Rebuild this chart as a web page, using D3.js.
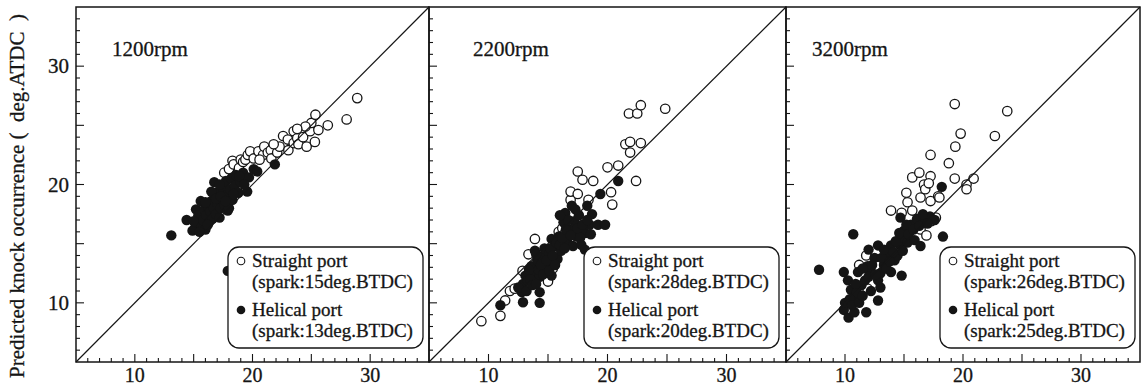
<!DOCTYPE html>
<html>
<head>
<meta charset="utf-8">
<script src="https://cdn.jsdelivr.net/npm/d3@7"></script>
<style>
  body { margin: 0; background: #fff; }
  svg { display: block; }
  text { font-family: "Liberation Serif", "Times New Roman", serif; fill: #151515; stroke: #151515; stroke-width: 0.3px; }
</style>
</head>
<body>
<svg id="chart" width="1144" height="387"></svg>
<script>
// engine speed of each panel
const speeds = ["1200rpm", "2200rpm", "3200rpm"];
const sparkStraight = ["15", "28", "26"];
const sparkHelical = ["13", "20", "25"];
const xTickLabels = [10, 20, 30];
const yTickLabels = [10, 20, 30];

// [measured, predicted] knock occurrence, deg.ATDC
const straight1200 = [
  [17.6,21.0],[18.0,21.3],[18.3,22.0],[18.4,21.7],[18.85,21.4],[19.0,22.1],[19.2,21.9],[19.4,22.1],
  [19.6,22.5],[19.8,22.8],[20.1,22.2],[20.5,22.8],[20.9,22.5],[21.0,23.2],[21.3,22.7],[21.55,22.9],
  [21.6,22.2],[22.1,22.7],[22.3,23.2],[22.6,24.1],[23.05,22.9],[23.0,23.8],[23.5,24.5],[23.5,23.5],
  [23.8,23.9],[23.9,23.4],[24.3,24.0],[24.6,23.2],[24.9,24.5],[25.0,25.2],[25.3,23.6],[25.35,25.9],
  [25.6,24.6],[24.5,24.9],[26.4,25.0],[28.0,25.5],[28.9,27.3],[21.8,23.4],[20.6,22.1],[23.8,24.7]
];
const helical1200 = [
  [13.1,15.7],[14.4,17.0],[14.9,16.1],[15.1,16.3],[15.3,16.8],[15.2,17.9],[15.4,17.4],[15.6,18.6],
  [15.7,16.5],[15.8,17.0],[15.9,17.9],[16.0,16.2],[16.1,17.4],[16.2,18.2],[16.3,16.8],[16.4,17.7],
  [16.5,18.6],[16.6,17.1],[16.7,18.0],[16.75,20.2],[16.8,19.0],[16.9,17.5],[17.0,18.4],[17.1,19.4],
  [17.2,17.2],[17.3,18.0],[17.4,18.8],[17.5,19.7],[17.6,18.3],[17.75,20.3],[17.8,19.1],[17.9,17.8],
  [18.0,18.0],[18.1,19.6],[18.2,20.5],[18.3,18.7],[18.5,19.9],[18.6,20.8],[18.8,19.3],[19.0,20.2],
  [19.2,21.0],[19.55,19.4],[19.7,20.6],[20.1,21.3],[20.4,21.1],[21.9,21.7],[17.9,12.7],[16.5,19.4],
  [15.0,16.9],[15.5,16.0],[16.2,16.6],[16.9,18.8],[17.3,19.0],[17.7,18.6],[18.4,19.2],[16.0,18.5],
  [17.2,20.0],[18.9,20.7],[19.3,20.0]
];
const straight2200 = [
  [9.4,8.45],[11.0,8.9],[11.4,10.2],[11.8,11.0],[12.2,11.2],[12.86,12.7],[13.36,14.1],[13.9,15.4],
  [15.0,11.8],[14.0,12.6],[15.9,16.0],[16.2,16.3],[16.9,18.7],[16.9,19.4],[17.5,19.2],[17.5,21.1],
  [17.9,20.4],[18.4,18.7],[18.8,20.3],[20.0,21.45],[20.3,19.35],[20.4,18.3],[20.9,21.6],[21.5,23.4],
  [21.9,23.6],[21.9,22.7],[22.4,20.3],[22.8,23.5],[21.8,26.0],[22.5,26.0],[22.8,26.7],[24.85,26.4],
  [15.4,12.9],[13.1,11.4]
];
const helical2200 = [
  [11.0,9.8],[12.9,10.05],[14.3,10.0],[14.3,10.9],[12.8,10.9],[12.9,11.6],[13.1,12.3],[13.3,11.9],
  [13.6,13.1],[13.8,12.5],[13.9,14.4],[14.1,13.6],[14.3,12.2],[14.5,13.9],[14.7,14.6],[14.8,12.9],
  [15.0,13.1],[15.1,14.2],[15.3,15.4],[15.3,12.3],[15.5,13.6],[15.6,14.8],[15.8,13.7],[15.9,15.6],
  [16.1,14.4],[16.3,16.8],[16.45,17.6],[16.6,15.2],[16.8,16.2],[17.0,18.2],[17.1,14.8],[17.2,16.9],
  [17.4,15.6],[17.6,17.4],[17.8,14.9],[18.1,15.9],[18.1,14.5],[18.3,18.2],[18.5,16.6],[18.7,17.5],
  [19.2,16.6],[19.8,16.6],[19.4,19.2],[20.9,20.3],[12.5,11.3],
  [13.2,11.0],[13.5,12.0],[13.7,11.5],[14.0,11.6],[14.2,12.8],[14.4,13.2],[14.6,12.4],[14.9,13.6],
  [15.1,12.7],[15.2,14.6],[15.4,14.0],[15.6,13.2],[15.7,15.1],[16.0,14.9],[16.2,15.5],[16.4,14.6],
  [16.5,16.2],[16.7,17.0],[16.9,15.7],[17.3,17.9],[17.5,16.3],[17.7,15.5],[17.9,16.6],[18.3,17.0],
  [18.6,15.8],[16.0,17.4],[14.0,14.1],[13.4,12.8]
];
const straight3200 = [
  [11.2,13.2],[11.8,14.0],[11.9,11.2],[13.9,17.8],[14.8,17.6],[15.2,19.3],[15.3,18.5],[15.7,17.8],
  [15.7,20.6],[16.3,21.0],[16.4,18.9],[16.4,16.2],[16.7,20.0],[16.9,15.7],[16.8,19.6],[17.25,20.7],
  [17.25,22.5],[17.25,18.6],[17.7,17.2],[17.9,19.0],[18.0,18.9],[18.8,21.8],[19.3,20.5],[19.3,26.8],
  [19.35,23.2],[19.8,24.3],[20.3,20.0],[20.3,19.6],[20.9,20.5],[22.7,24.1],[23.75,26.2],[17.1,20.1],
  [17.3,16.9]
];
const helical3200 = [
  [7.8,12.8],[9.9,12.6],[10.25,11.9],[10.5,11.1],[10.8,10.5],[9.9,9.4],[10.3,8.75],[10.8,9.2],
  [11.8,9.2],[12.8,10.2],[11.4,11.5],[11.1,12.6],[11.9,13.1],[12.2,12.6],[12.8,11.9],[12.5,13.8],
  [12.8,14.85],[13.3,13.2],[13.6,14.2],[13.9,14.85],[13.9,12.6],[14.2,13.6],[14.45,14.0],[14.7,14.85],
  [14.7,17.2],[15.0,16.1],[14.9,15.5],[15.3,15.1],[15.6,16.6],[15.9,15.3],[16.1,17.1],[16.4,14.8],
  [16.8,17.0],[17.2,17.3],[17.6,17.0],[14.8,12.3],[10.7,15.8],[18.2,19.8],[18.3,15.6],[11.0,10.9],
  [12.2,11.0],[13.0,12.5],
  [10.0,10.0],[10.4,10.3],[10.6,9.8],[11.2,10.0],[11.5,10.6],[11.7,11.9],[12.0,12.2],[12.3,13.2],
  [12.6,12.4],[13.1,13.8],[13.3,14.5],[13.5,12.9],[13.8,13.5],[14.1,14.3],[14.3,15.2],[14.6,15.9],
  [14.9,14.4],[15.2,16.6],[15.4,15.8],[15.8,16.2],[16.3,16.5],[16.6,17.5],[17.0,16.7],[12.0,14.5],
  [11.5,12.9],[10.9,11.6],[13.0,11.3]
];

const straightSets = [straight1200, straight2200, straight3200];
const helicalSets = [helical1200, helical2200, helical3200];

const svg = d3.select("#chart");
const ink = "#151515";

// panel frames (pixels)
const panelEdges = [[76, 429], [429, 786], [786, 1140]];
const plotTop = 7, plotBottom = 362;

const y = d3.scaleLinear().domain([5, 35]).range([plotBottom, plotTop]);

panelEdges.forEach((edge, i) => {
  const x = d3.scaleLinear().domain([5, 35]).range(edge);
  const g = svg.append("g");

  // data points: open first, filled on top
  g.selectAll(".open")
    .data(straightSets[i])
    .enter()
    .append("circle")
    .attr("cx", d => x(d[0]))
    .attr("cy", d => y(d[1]))
    .attr("r", 4.7)
    .attr("fill", "#fff")
    .attr("stroke", ink)
    .attr("stroke-width", 1.3);

  g.selectAll(".filled")
    .data(helicalSets[i])
    .enter()
    .append("circle")
    .attr("cx", d => x(d[0]))
    .attr("cy", d => y(d[1]))
    .attr("r", 5.2)
    .attr("fill", ink);

  // 1:1 line
  g.append("line")
    .attr("x1", x(5)).attr("y1", y(5))
    .attr("x2", x(35)).attr("y2", y(35))
    .attr("stroke", ink)
    .attr("stroke-width", 1.2);

  // ticks: minor every 1, longer every 5
  const ticks = d3.range(6, 35);
  g.selectAll(".xt")
    .data(ticks)
    .enter()
    .append("line")
    .attr("x1", d => x(d)).attr("x2", d => x(d))
    .attr("y1", plotBottom)
    .attr("y2", d => plotBottom - (d % 5 === 0 ? 8 : 4))
    .attr("stroke", ink)
    .attr("stroke-width", 1.1);

  g.selectAll(".yt")
    .data(ticks)
    .enter()
    .append("line")
    .attr("y1", d => y(d)).attr("y2", d => y(d))
    .attr("x1", edge[0])
    .attr("x2", d => edge[0] + (d % 5 === 0 ? 8 : 4))
    .attr("stroke", ink)
    .attr("stroke-width", 1.1);

  g.selectAll(".xl")
    .data(xTickLabels)
    .enter()
    .append("text")
    .attr("x", d => x(d))
    .attr("y", 382)
    .attr("text-anchor", "middle")
    .attr("font-size", "20px")
    .text(d => d);

  if (i === 0) {
    g.selectAll(".yl")
      .data(yTickLabels)
      .enter()
      .append("text")
      .attr("x", edge[0] - 7)
      .attr("y", d => y(d) + 7)
      .attr("text-anchor", "end")
      .attr("font-size", "21px")
      .text(d => d);
  }

  // frame
  g.append("rect")
    .attr("x", edge[0]).attr("y", plotTop)
    .attr("width", edge[1] - edge[0]).attr("height", plotBottom - plotTop)
    .attr("fill", "none")
    .attr("stroke", ink)
    .attr("stroke-width", 1.5);

  // speed label
  const labelX = [112, 473, 812];
  g.append("text")
    .attr("x", labelX[i])
    .attr("y", 56)
    .attr("font-size", "21px")
    .text(speeds[i]);

  // legend
  const boxLeft = [228, 584, 940];
  const lx = boxLeft[i], ly = 247;
  const lg = g.append("g").attr("transform", `translate(${lx},${ly})`);
  lg.append("rect")
    .attr("width", 195).attr("height", 101)
    .attr("rx", 11).attr("ry", 11)
    .attr("fill", "#fff")
    .attr("stroke", ink)
    .attr("stroke-width", 1.3);

  const rows = [
    { t: "Straight port", y: 20, sym: "open" },
    { t: `(spark:${sparkStraight[i]}deg.BTDC)`, y: 41 },
    { t: "Helical port", y: 69, sym: "filled" },
    { t: `(spark:${sparkHelical[i]}deg.BTDC)`, y: 90 }
  ];
  rows.forEach(r => {
    lg.append("text")
      .attr("x", 24).attr("y", r.y)
      .attr("font-size", "19px")
      .text(r.t);
    if (r.sym) {
      lg.append("circle")
        .attr("cx", 13).attr("cy", r.y - 6)
        .attr("r", r.sym === "open" ? 3.8 : 4.3)
        .attr("fill", r.sym === "open" ? "#fff" : ink)
        .attr("stroke", ink)
        .attr("stroke-width", r.sym === "open" ? 1.1 : 0);
    }
  });
});

// shared y-axis title
svg.append("text")
  .attr("transform", `translate(24,${(plotTop + 385) / 2}) rotate(-90)`)
  .attr("text-anchor", "middle")
  .attr("font-size", "21px")
  .attr("xml:space", "preserve")
  .style("white-space", "pre")
  .text("Predicted knock occurrence (  deg.ATDC  )");
</script>
</body>
</html>
